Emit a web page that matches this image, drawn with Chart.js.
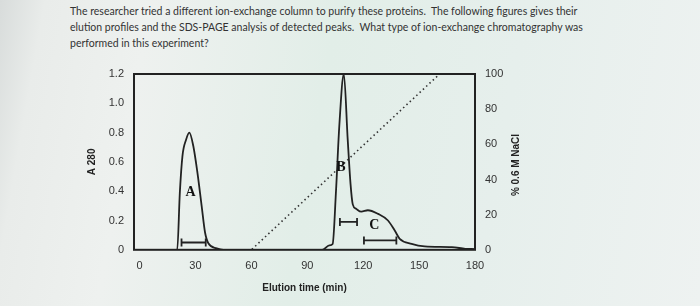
<!DOCTYPE html>
<html>
<head>
<meta charset="utf-8">
<script src="https://cdn.jsdelivr.net/npm/chart.js@4/dist/chart.umd.min.js"></script>
<style>
  html, body { margin: 0; padding: 0; }
  body {
    width: 700px; height: 306px; overflow: hidden; position: relative;
    background: linear-gradient(100deg, #d8dcdb 0%, #e9ecea 6%, #eef1ef 20%, #e2eee8 45%, #e6efec 70%, #eef2f1 100%);
  }
  #question {
    position: absolute; left: 70px; top: 3px; width: 525px;
    font-family: Lato, sans-serif; font-size: 10.5px; line-height: 16px; color: #333;
  }
  #wrap { position: absolute; left: 0; top: 0; width: 700px; height: 306px; }
</style>
</head>
<body>
<div id="question">The researcher tried a different ion-exchange column to purify these proteins.&nbsp; The following figures gives their elution profiles and the SDS-PAGE analysis of detected peaks.&nbsp; What type of ion-exchange chromatography was performed in this experiment?</div>
<div id="wrap"><canvas id="chart"></canvas></div>
<script>
// elution profile (A280)
var elutionTime = [0, 20, 20.2, 21.6, 23, 24.9, 26.7, 28.8, 31, 33.3, 35.1, 36.9, 41.4, 45, 60, 90, 98, 101.8, 103.6, 105.4, 107.2, 109.6, 111.7, 113.2, 114.4, 116.2, 119, 122.5, 128, 133.3, 137, 139.6, 146, 153, 167.6, 174.8, 180];
var a280 = [0, 0, 0, 0.39, 0.64, 0.75, 0.8, 0.71, 0.53, 0.3, 0.12, 0.045, 0.01, 0, 0, 0, 0, 0.03, 0.04, 0.4, 0.85, 1.2, 0.75, 0.45, 0.31, 0.28, 0.26, 0.27, 0.245, 0.2, 0.13, 0.075, 0.04, 0.023, 0.018, 0.007, 0.005];

// salt gradient (% 0.6 M NaCl)
var gradientTime = [0, 60, 161, 180];
var naclPercent = [0, 0, 100, 100];

// fraction brackets and peak labels
var peakNames = ["A", "B", "C"];
var bracketStart = [22.5, 107.5, 120.4];
var bracketEnd = [35.5, 116.7, 137.8];
var bracketLevel = [0.05, 0.19, 0.064];
var labelTime = [27.4, 108, 126];
var labelLevel = [0.39, 0.56, 0.17];

var xTicks = [0, 30, 60, 90, 120, 150, 180];
var leftTicks = [0, 0.2, 0.4, 0.6, 0.8, 1.0, 1.2];
var rightTicks = [0, 20, 40, 60, 80, 100];

function pts(xs, ys) {
    var out = [];
    for (var i = 0; i < xs.length; i++) out.push({x: xs[i], y: ys[i]});
    return out;
}

var datasets = [];
datasets.push({
    data: pts(elutionTime, a280), yAxisID: 'y',
    borderColor: '#222', borderWidth: 1.8, pointRadius: 0, cubicInterpolationMode: 'monotone', order: 1
});
datasets.push({
    data: pts(gradientTime, naclPercent), yAxisID: 'y2',
    borderColor: '#333', borderWidth: 1.6, borderDash: [1.5, 3], pointRadius: 0, tension: 0, order: 2
});
for (var i = 0; i < peakNames.length; i++) {
    datasets.push({
        data: pts([bracketStart[i], bracketEnd[i]], [bracketLevel[i], bracketLevel[i]]), yAxisID: 'y',
        borderColor: '#222', borderWidth: 1.8, pointStyle: 'line', rotation: 90,
        pointRadius: 4, pointBorderWidth: 1.8, pointBorderColor: '#222', order: 0
    });
}

// box round the plot, peak letters, right axis title
var extras = {
    id: 'extras',
    afterDatasetsDraw: function(chart) {
        var c = chart.ctx, a = chart.chartArea;
        var xs = chart.scales.x, ys = chart.scales.y;
        c.save();
        c.strokeStyle = '#222';
        c.lineWidth = 2;
        c.strokeRect(a.left, a.top, a.right - a.left, a.bottom - a.top);
        c.fillStyle = '#111';
        c.font = 'bold 14px "Liberation Serif", serif';
        c.textAlign = 'center';
        c.textBaseline = 'middle';
        for (var i = 0; i < peakNames.length; i++) {
            c.fillText(peakNames[i], xs.getPixelForValue(labelTime[i]), ys.getPixelForValue(labelLevel[i]));
        }
        c.translate(516, 165);
        c.rotate(-Math.PI / 2);
        c.font = 'bold 10px "Liberation Sans", Arial, sans-serif';
        c.fillStyle = '#222';
        c.fillText('% 0.6 M NaCl', 0, 0);
        c.restore();
    }
};

var tickFont = {family: '"Liberation Sans", Arial, sans-serif', size: 11};

new Chart(document.getElementById('chart'), {
    type: 'line',
    data: {datasets: datasets},
    options: {
        responsive: true,
        maintainAspectRatio: false,
        animation: false,
        layout: {padding: {left: 86, right: 175, top: 74, bottom: 12}},
        plugins: {legend: {display: false}, tooltip: {enabled: false}},
        scales: {
            x: {
                type: 'linear', min: -3, max: 180,
                afterBuildTicks: function(s) { s.ticks = xTicks.map(function(v) { return {value: v}; }); },
                grid: {display: false, drawTicks: true, tickLength: 4},
                border: {display: false},
                ticks: {color: '#333', font: tickFont, padding: 6, maxRotation: 0},
                title: {display: true, text: 'Elution time (min)', color: '#222',
                        font: {family: '"Liberation Sans", Arial, sans-serif', size: 10, weight: 'bold'}, padding: {top: 3, bottom: 0}}
            },
            y: {
                position: 'left', min: 0, max: 1.2,
                afterBuildTicks: function(s) { s.ticks = leftTicks.map(function(v) { return {value: v}; }); },
                afterFit: function(s) { s.width = 48; },
                grid: {display: false, drawTicks: true, tickLength: 4},
                border: {display: false},
                ticks: {color: '#333', font: tickFont, padding: 6,
                        callback: function(v) { return v === 0 ? '0' : v.toFixed(1); }},
                title: {display: true, text: 'A 280', color: '#222',
                        font: {family: '"Liberation Sans", Arial, sans-serif', size: 10, weight: 'bold'}, padding: 0}
            },
            y2: {
                position: 'right', min: 0, max: 100,
                afterBuildTicks: function(s) { s.ticks = rightTicks.map(function(v) { return {value: v}; }); },
                afterFit: function(s) { s.width = 50; },
                grid: {display: false, drawTicks: true, tickLength: 4},
                border: {display: false},
                ticks: {color: '#333', font: tickFont, padding: 6}
            }
        }
    },
    plugins: [extras]
});
</script>
</body>
</html>
